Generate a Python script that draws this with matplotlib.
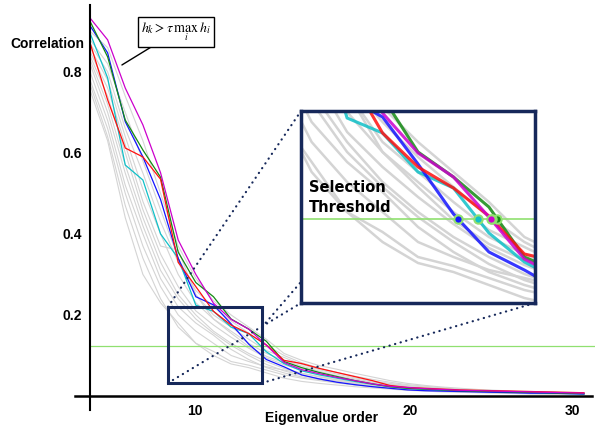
import numpy as np
import matplotlib.pyplot as plt
from matplotlib.patches import Rectangle, ConnectionPatch

plt.rcParams['font.family'] = ['Liberation Sans', 'DejaVu Sans']
plt.rcParams['mathtext.fontset'] = 'stix'

# eigenvalue index of each point
order = np.arange(1, 30)

magenta = [0.933, 0.879, 0.760, 0.669, 0.551, 0.385, 0.300, 0.229, 0.189, 0.165, 0.125, 0.083, 0.065, 0.055, 0.046,
           0.038, 0.030, 0.024, 0.021, 0.018, 0.016, 0.014, 0.013, 0.012, 0.011, 0.010, 0.009, 0.008, 0.007]
blue = [0.914, 0.847, 0.677, 0.590, 0.485, 0.340, 0.245, 0.225, 0.178, 0.128, 0.090, 0.072, 0.052, 0.042, 0.034,
        0.028, 0.023, 0.019, 0.015, 0.013, 0.012, 0.011, 0.010, 0.009, 0.008, 0.007, 0.007, 0.006, 0.005]
green = [0.925, 0.837, 0.681, 0.607, 0.540, 0.355, 0.280, 0.245, 0.190, 0.165, 0.135, 0.085, 0.070, 0.058, 0.048,
         0.038, 0.030, 0.023, 0.019, 0.017, 0.015, 0.013, 0.012, 0.011, 0.010, 0.009, 0.008, 0.007, 0.006]
red = [0.872, 0.731, 0.612, 0.590, 0.535, 0.330, 0.270, 0.209, 0.175, 0.154, 0.126, 0.088, 0.080, 0.068, 0.058,
       0.048, 0.038, 0.026, 0.021, 0.019, 0.017, 0.015, 0.014, 0.013, 0.012, 0.011, 0.010, 0.009, 0.008]
cyan = [0.896, 0.785, 0.570, 0.533, 0.400, 0.340, 0.224, 0.209, 0.170, 0.154, 0.109, 0.080, 0.062, 0.052, 0.044,
        0.036, 0.029, 0.023, 0.019, 0.016, 0.014, 0.012, 0.011, 0.010, 0.009, 0.008, 0.007, 0.006, 0.005]

gray_curves = [
    [0.90, 0.86, 0.74, 0.63, 0.50, 0.37, 0.29, 0.235, 0.200, 0.170, 0.140, 0.105, 0.088, 0.075, 0.066,
     0.056, 0.047, 0.038, 0.031, 0.026, 0.022, 0.019, 0.016, 0.014, 0.012, 0.011, 0.010, 0.009, 0.008],
    [0.88, 0.82, 0.70, 0.58, 0.46, 0.34, 0.26, 0.220, 0.185, 0.155, 0.125, 0.100, 0.082, 0.069, 0.058,
     0.049, 0.041, 0.034, 0.028, 0.024, 0.020, 0.017, 0.015, 0.013, 0.011, 0.010, 0.009, 0.008, 0.007],
    [0.87, 0.80, 0.66, 0.55, 0.43, 0.33, 0.25, 0.200, 0.170, 0.140, 0.112, 0.095, 0.078, 0.065, 0.054,
     0.045, 0.037, 0.031, 0.026, 0.022, 0.019, 0.016, 0.014, 0.012, 0.011, 0.010, 0.009, 0.008, 0.007],
    [0.86, 0.78, 0.64, 0.51, 0.40, 0.30, 0.23, 0.190, 0.160, 0.130, 0.105, 0.088, 0.074, 0.061, 0.050,
     0.042, 0.035, 0.029, 0.024, 0.020, 0.017, 0.015, 0.013, 0.011, 0.010, 0.009, 0.008, 0.007, 0.006],
    [0.85, 0.76, 0.62, 0.48, 0.37, 0.36, 0.25, 0.190, 0.155, 0.122, 0.098, 0.082, 0.068, 0.057, 0.048,
     0.040, 0.033, 0.027, 0.022, 0.019, 0.016, 0.014, 0.012, 0.011, 0.010, 0.009, 0.008, 0.007, 0.006],
    [0.84, 0.74, 0.60, 0.46, 0.35, 0.27, 0.21, 0.175, 0.145, 0.118, 0.094, 0.077, 0.064, 0.054, 0.045,
     0.038, 0.031, 0.026, 0.021, 0.018, 0.015, 0.013, 0.012, 0.010, 0.009, 0.008, 0.007, 0.006, 0.005],
    [0.83, 0.72, 0.57, 0.44, 0.33, 0.25, 0.20, 0.160, 0.130, 0.105, 0.085, 0.068, 0.056, 0.047, 0.040,
     0.034, 0.028, 0.023, 0.019, 0.016, 0.014, 0.012, 0.011, 0.010, 0.009, 0.008, 0.007, 0.006, 0.005],
    [0.82, 0.70, 0.55, 0.42, 0.31, 0.24, 0.19, 0.155, 0.125, 0.100, 0.078, 0.062, 0.051, 0.043, 0.037,
     0.031, 0.026, 0.021, 0.018, 0.015, 0.013, 0.011, 0.010, 0.009, 0.008, 0.007, 0.006, 0.005, 0.005],
    [0.80, 0.68, 0.52, 0.40, 0.29, 0.22, 0.18, 0.150, 0.115, 0.090, 0.070, 0.057, 0.047, 0.040, 0.034,
     0.028, 0.023, 0.019, 0.016, 0.014, 0.012, 0.010, 0.009, 0.008, 0.007, 0.006, 0.006, 0.005, 0.004],
    [0.78, 0.66, 0.50, 0.37, 0.27, 0.20, 0.16, 0.130, 0.100, 0.085, 0.072, 0.064, 0.056, 0.048, 0.040,
     0.033, 0.027, 0.022, 0.018, 0.015, 0.013, 0.011, 0.010, 0.009, 0.008, 0.007, 0.006, 0.005, 0.005],
    [0.77, 0.64, 0.47, 0.34, 0.24, 0.17, 0.13, 0.110, 0.085, 0.076, 0.064, 0.052, 0.044, 0.038, 0.032,
     0.027, 0.023, 0.019, 0.016, 0.014, 0.012, 0.010, 0.009, 0.008, 0.007, 0.006, 0.005, 0.005, 0.004],
    [0.755, 0.63, 0.44, 0.30, 0.23, 0.18, 0.13, 0.100, 0.079, 0.070, 0.057, 0.044, 0.036, 0.031, 0.027,
     0.023, 0.020, 0.017, 0.014, 0.012, 0.010, 0.009, 0.008, 0.007, 0.006, 0.005, 0.005, 0.004, 0.004],
]

series = [(cyan, '#10c0c8'), (blue, '#1414ff'), (green, '#138a13'), (red, '#ff1010'), (magenta, '#cc00cc')]

threshold = 0.123
xtick_pos = [6.95, 19.14, 28.38]
xtick_lab = ['10', '20', '30']
ytick_vals = [0.2, 0.4, 0.6, 0.8]

zoom_x = (5.42, 10.75)
zoom_y = (0.032, 0.22)
inset_x = (5.7, 12.3)
inset_y = (0.039, 0.231)

navy = '#16285a'
thr_col = '#90e070'
gray = '#d4d4d4'

fig = plt.figure(figsize=(5.95, 4.28), dpi=100)
ax = fig.add_axes([75 / 595, 18 / 428, 517 / 595, 405 / 428])

for g in gray_curves:
    ax.plot(order, g, color=gray, lw=0.8, zorder=1)
for vals, c in series:
    ax.plot(order, vals, color=c, lw=0.9, zorder=2)
ax.hlines(threshold, 1, 29.7, color=thr_col, lw=0.9, zorder=1.5, clip_on=False)

ax.set_xlim(0.15, 29.46)
ax.set_ylim(-0.0346, 0.965)
for s in ['top', 'right']:
    ax.spines[s].set_visible(False)
ax.spines['left'].set_position(('data', 1))
ax.spines['bottom'].set_position(('data', 0))
ax.spines['left'].set_linewidth(1.5)
ax.spines['bottom'].set_linewidth(1.8)
ax.set_xticks(xtick_pos)
ax.set_xticklabels(xtick_lab)
ax.set_yticks(ytick_vals)
ax.set_yticklabels(['%.1f' % v for v in ytick_vals])
ax.tick_params(length=0, labelsize=10, pad=6)
for lab in ax.get_xticklabels() + ax.get_yticklabels():
    lab.set_fontweight('bold')

fig.text(10 / 595, 1 - 44 / 428, 'Correlation', fontsize=10, fontweight='bold', va='center', ha='left')
fig.text(322 / 595, 1 - 418 / 428, 'Eigenvalue order', fontsize=10, fontweight='bold', va='center', ha='center')

# formula callout
ax.annotate(r'$h_k > \tau\,\max_i\, h_i$', xy=(2.81, 0.817), xytext=(5.88, 0.899),
            fontsize=10, ha='center', va='center',
            bbox=dict(boxstyle='square,pad=0.25', fc='white', ec='black', lw=1),
            arrowprops=dict(arrowstyle='-', color='black', lw=1, shrinkA=0, shrinkB=0))

# zoom box
ax.add_patch(Rectangle((zoom_x[0], zoom_y[0]), zoom_x[1] - zoom_x[0], zoom_y[1] - zoom_y[0],
                       fill=False, ec=navy, lw=2.2, zorder=5))

axins = fig.add_axes([301 / 595, 125 / 428, 234 / 595, 192 / 428], zorder=3)
for g in gray_curves:
    axins.plot(order, g, color=gray, lw=1.8, zorder=1)
for vals, c in series:
    axins.plot(order, vals, color=c, lw=2.2, alpha=0.85, zorder=2)
axins.axhline(threshold, color=thr_col, lw=1.2, zorder=1.5)
for vals, c in series:
    v = np.array(vals)
    k = np.argmax(v < threshold)
    xc = order[k - 1] + (v[k - 1] - threshold) / (v[k - 1] - v[k])
    axins.plot([xc], [threshold], 'o', ms=6, mfc=c, mec=thr_col, mew=1.5, zorder=4)
axins.set_xlim(*inset_x)
axins.set_ylim(*inset_y)
axins.set_xticks([])
axins.set_yticks([])
for s in axins.spines.values():
    s.set_color(navy)
    s.set_linewidth(2.5)
axins.text(0.035, 0.55, 'Selection\nThreshold', transform=axins.transAxes, fontsize=10.5,
           fontweight='bold', family='DejaVu Sans', linespacing=1.4, va='center', ha='left')

# dotted connectors from the zoom box to the inset
links = [((zoom_x[0], zoom_y[1]), (0, 1)),
         ((zoom_x[0], zoom_y[0]), (0, 0)),
         ((zoom_x[1], 0.170), (0, 0.11)),
         ((zoom_x[1], zoom_y[0]), (1, 0))]
for a, b in links:
    con = ConnectionPatch(xyA=a, coordsA=ax.transData, xyB=b, coordsB=axins.transAxes,
                          color=navy, lw=1.6, linestyle=(0, (0.1, 2.5)), capstyle='round', zorder=2)
    fig.add_artist(con)

fig.savefig('out.png', dpi=100)
